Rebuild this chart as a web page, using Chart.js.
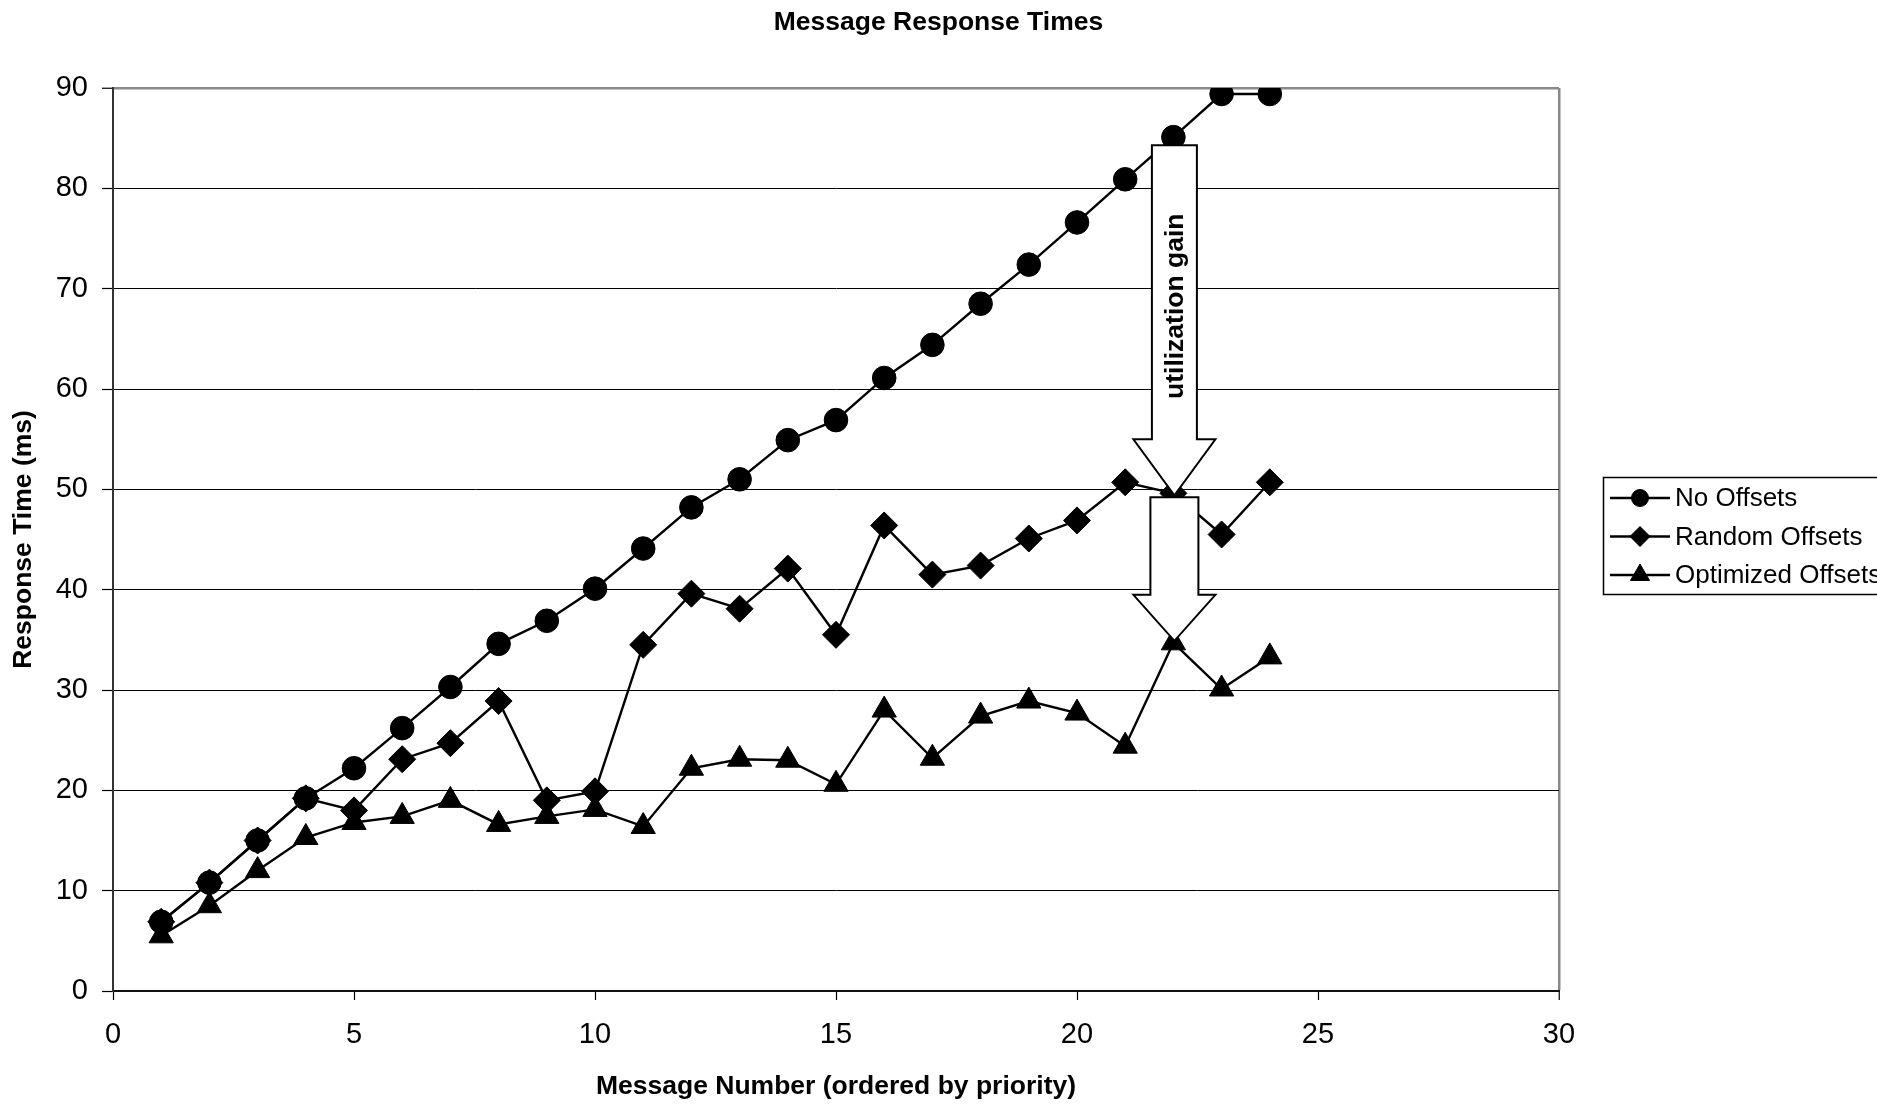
<!DOCTYPE html>
<html>
<head>
<meta charset="utf-8">
<title>Message Response Times</title>
<script src="https://cdn.jsdelivr.net/npm/chart.js@4.4.1/dist/chart.umd.min.js"></script>
<style>
  html, body { margin: 0; padding: 0; background: #ffffff; }
  canvas { display: block; }
</style>
</head>
<body>
<canvas id="chart" width="1877" height="1108"></canvas>
<script>
// ---- data -------------------------------------------------------------
const messageNumbers   = [1, 2, 3, 4, 5, 6, 7, 8, 9, 10, 11, 12, 13, 14, 15, 16, 17, 18, 19, 20, 21, 22, 23, 24];
const noOffsets        = [6.9, 10.8, 15.0, 19.2, 22.2, 26.2, 30.3, 34.6, 36.9, 40.1, 44.1, 48.2, 51.0, 54.9, 56.9, 61.1, 64.4, 68.5, 72.4, 76.6, 80.9, 85.1, 89.4, 89.4];
const randomOffsets    = [6.9, 10.8, 15.0, 19.2, 18.0, 23.1, 24.7, 28.9, 19.0, 19.9, 34.5, 39.6, 38.1, 42.1, 35.5, 46.4, 41.5, 42.4, 45.1, 46.9, 50.7, 49.6, 45.5, 50.7];
const optimizedOffsets = [5.5, 8.5, 12.0, 15.3, 16.8, 17.4, 19.0, 16.6, 17.4, 18.1, 16.4, 22.2, 23.1, 23.0, 20.6, 28.0, 23.2, 27.4, 28.9, 27.7, 24.4, 34.7, 30.1, 33.3];
const seriesNames      = ['No Offsets', 'Random Offsets', 'Optimized Offsets'];
const xTickValues      = [0, 5, 10, 15, 20, 25, 30];
const yTickValues      = [0, 10, 20, 30, 40, 50, 60, 70, 80, 90];
const gainMessage      = 22;            // message where the "utilization gain" arrows sit
const gainLabel        = 'utilization gain';

// ---- styling ----------------------------------------------------------
const FONT = "'Liberation Sans', Arial, Helvetica, sans-serif";
const markerStyles = [
  { pointStyle: 'circle',   radius: 11.8, legendRadius: 8.5 },
  { pointStyle: 'rectRot',  radius: 13.5, legendRadius: 10 },
  { pointStyle: 'triangle', radius: 14,   legendRadius: 11 }
];

function toPoints(values) {
  return messageNumbers.map((m, i) => ({ x: m, y: values[i] }));
}

const seriesValues = [noOffsets, randomOffsets, optimizedOffsets];
const datasets = seriesValues.map((values, i) => ({
  label: seriesNames[i],
  data: toPoints(values),
  borderColor: '#000000',
  backgroundColor: '#000000',
  borderWidth: 2.4,
  pointStyle: markerStyles[i].pointStyle,
  pointRadius: markerStyles[i].radius,
  pointBorderWidth: 1,
  pointBorderColor: '#000000',
  pointBackgroundColor: '#000000',
  tension: 0,
  fill: false
}));

// ---- block arrows showing the gain between the series ----------------
function blockArrow(ctx, x, yTop, yTip, shaftHalf, headHalf, headLen) {
  const yNeck = yTip - headLen;
  ctx.beginPath();
  ctx.moveTo(x - shaftHalf, yTop);
  ctx.lineTo(x + shaftHalf, yTop);
  ctx.lineTo(x + shaftHalf, yNeck);
  ctx.lineTo(x + headHalf, yNeck);
  ctx.lineTo(x, yTip);
  ctx.lineTo(x - headHalf, yNeck);
  ctx.lineTo(x - shaftHalf, yNeck);
  ctx.closePath();
  ctx.fillStyle = '#ffffff';
  ctx.fill();
  ctx.lineWidth = 2;
  ctx.strokeStyle = '#000000';
  ctx.lineJoin = 'miter';
  ctx.stroke();
}

const gainArrows = {
  id: 'gainArrows',
  afterDatasetsDraw(chart) {
    const { ctx, scales: { x, y } } = chart;
    const idx = messageNumbers.indexOf(gainMessage);
    const xp = x.getPixelForValue(gainMessage);
    const yNo = y.getPixelForValue(noOffsets[idx]);
    const yRand = y.getPixelForValue(randomOffsets[idx]);
    const yOpt = y.getPixelForValue(optimizedOffsets[idx]);
    ctx.save();
    // upper arrow: no offsets -> random offsets
    const top1 = yNo + 8, head1 = 56;
    blockArrow(ctx, xp + 1, top1, yRand + 2, 22.5, 41, head1);
    // lower arrow: random offsets -> optimized offsets
    blockArrow(ctx, xp + 1, yRand + 4, yOpt - 2, 24, 41, 46);
    // rotated caption inside the upper shaft
    const mid = (top1 + (yRand + 2 - head1)) / 2 + 14;
    ctx.translate(xp + 2, mid);
    ctx.rotate(-Math.PI / 2);
    ctx.fillStyle = '#000000';
    ctx.font = `bold 26.5px ${FONT}`;
    ctx.textAlign = 'center';
    ctx.textBaseline = 'middle';
    ctx.fillText(gainLabel, 0, 0);
    ctx.restore();
  }
};

// ---- boxed legend with line + marker samples --------------------------
function legendMarker(ctx, style, r, cx, cy) {
  if (Chart.helpers && Chart.helpers.drawPoint) {
    ctx.fillStyle = '#000000';
    ctx.strokeStyle = '#000000';
    ctx.lineWidth = 1;
    Chart.helpers.drawPoint(ctx, { pointStyle: style, radius: r, rotation: 0, borderWidth: 1 }, cx, cy);
    return;
  }
  ctx.beginPath();
  if (style === 'circle') ctx.arc(cx, cy, r, 0, Math.PI * 2);
  else if (style === 'rectRot') { ctx.moveTo(cx, cy - r); ctx.lineTo(cx + r, cy); ctx.lineTo(cx, cy + r); ctx.lineTo(cx - r, cy); }
  else { ctx.moveTo(cx, cy - r); ctx.lineTo(cx + r * 0.866, cy + r / 2); ctx.lineTo(cx - r * 0.866, cy + r / 2); }
  ctx.closePath();
  ctx.fillStyle = '#000000';
  ctx.fill();
}

const boxedLegend = {
  id: 'boxedLegend',
  afterDraw(chart) {
    const ctx = chart.ctx;
    const box = { left: 1603, top: 477, width: 420, height: 117 };
    const firstRow = 498, rowGap = 38.5;
    ctx.save();
    ctx.lineWidth = 1.5;
    ctx.strokeStyle = '#000000';
    ctx.strokeRect(box.left + 0.5, box.top + 0.5, box.width, box.height);
    chart.data.datasets.forEach((ds, i) => {
      const yy = firstRow + i * rowGap;
      ctx.beginPath();
      ctx.moveTo(1610, yy);
      ctx.lineTo(1670, yy);
      ctx.lineWidth = 2.4;
      ctx.strokeStyle = '#000000';
      ctx.stroke();
      legendMarker(ctx, markerStyles[i].pointStyle, markerStyles[i].legendRadius, 1640, yy);
      ctx.fillStyle = '#000000';
      ctx.font = `26px ${FONT}`;
      ctx.textAlign = 'left';
      ctx.textBaseline = 'middle';
      ctx.fillText(ds.label, 1675, yy + 1);
    });
    ctx.restore();
  }
};

// ---- chart ------------------------------------------------------------
new Chart(document.getElementById('chart'), {
  type: 'line',
  data: { datasets },
  plugins: [gainArrows, boxedLegend],
  options: {
    responsive: false,
    animation: false,
    devicePixelRatio: 1,
    layout: { padding: 0 },
    plugins: {
      legend: { display: false },
      tooltip: { enabled: false },
      title: {
        display: true,
        text: 'Message Response Times',
        color: '#000000',
        font: { family: FONT, size: 26.5, weight: 'bold' },
        padding: { top: 6.5, bottom: 49.7 }
      }
    },
    scales: {
      x: {
        type: 'linear',
        min: 0,
        max: 30,
        afterBuildTicks: s => { s.ticks = xTickValues.map(v => ({ value: v })); },
        afterFit: s => { s.height = 117; },
        ticks: {
          color: '#000000',
          padding: 18,
          maxRotation: 0,
          font: { family: FONT, size: 29 }
        },
        grid: {
          drawOnChartArea: true,
          color: c => (c.tick && c.tick.value === 30 ? '#8a8a8a' : 'rgba(0,0,0,0)'),
          lineWidth: c => (c.tick && c.tick.value === 30 ? 2.5 : 1),
          tickColor: '#000000',
          tickWidth: 1.2,
          tickLength: 9
        },
        border: { display: true, color: '#111111', width: 2 },
        title: {
          display: true,
          text: 'Message Number (ordered by priority)',
          color: '#000000',
          font: { family: FONT, size: 26.5, weight: 'bold' },
          padding: { top: 0, bottom: 5 }
        }
      },
      y: {
        type: 'linear',
        position: 'left',
        min: 0,
        max: 90,
        afterBuildTicks: s => { s.ticks = yTickValues.map(v => ({ value: v })); },
        afterFit: s => { s.width = 113; },
        ticks: {
          color: '#000000',
          padding: 14,
          font: { family: FONT, size: 29 }
        },
        grid: {
          color: c => (c.tick && c.tick.value === 90 ? '#8a8a8a' : '#000000'),
          lineWidth: c => (c.tick && c.tick.value === 90 ? 2.5 : 1),
          tickColor: '#000000',
          tickWidth: 1.2,
          tickLength: 11
        },
        border: { display: true, color: '#333333', width: 2 },
        title: {
          display: true,
          text: 'Response Time (ms)',
          color: '#000000',
          font: { family: FONT, size: 26.5, weight: 'bold' },
          padding: { top: 8, bottom: 0 }
        }
      },
      // empty right-hand gutter that holds the legend
      gutter: {
        type: 'linear',
        position: 'right',
        display: true,
        grid: { display: false },
        ticks: { display: false },
        border: { display: false },
        afterFit: s => { s.width = 318; }
      }
    }
  }
});
</script>
</body>
</html>
